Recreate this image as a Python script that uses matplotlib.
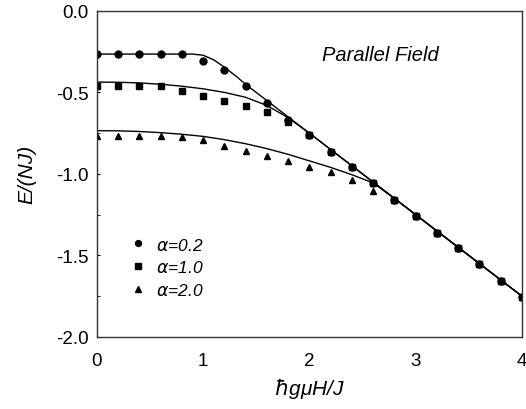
import numpy as np
import matplotlib.pyplot as plt
from matplotlib.ticker import MultipleLocator

plt.rcParams['font.family'] = ['Liberation Sans', 'DejaVu Sans']

# Puntos calculados
h = [0.0, 0.2, 0.4, 0.6, 0.8, 1.0, 1.2, 1.4, 1.6, 1.8, 2.0,
     2.2, 2.4, 2.6, 2.8, 3.0, 3.2, 3.4, 3.6, 3.8, 4.0]
e_a02 = [-0.265, -0.265, -0.265, -0.265, -0.265, -0.305, -0.36, -0.46, -0.565, -0.667, -0.76,
         -0.863, -0.96, -1.057, -1.163, -1.26, -1.36, -1.455, -1.555, -1.655, -1.757]
e_a10 = [-0.46, -0.46, -0.46, -0.46, -0.489, -0.52, -0.55, -0.585, -0.62, -0.68, -0.76,
         -0.863, -0.96, -1.057, -1.163, -1.26, -1.36, -1.455, -1.555, -1.655, -1.757]
e_a20 = [-0.77, -0.77, -0.77, -0.77, -0.775, -0.795, -0.826, -0.857, -0.89, -0.92, -0.955,
         -0.99, -1.04, -1.108, -1.163, -1.26, -1.36, -1.455, -1.555, -1.655, -1.757]

# Curvas teoricas
h_c02 = [0.0, 0.5, 0.9, 1.0, 1.1, 1.2, 1.3, 1.4, 1.6, 1.8, 2.0, 2.5, 3.0, 3.5, 4.0]
c_a02 = [-0.265, -0.265, -0.265, -0.272, -0.30, -0.345, -0.395, -0.45, -0.55, -0.65, -0.75,
         -1.0, -1.25, -1.5, -1.75]
h_c10 = [0.0, 0.2, 0.4, 0.6, 0.8, 1.0, 1.2, 1.4, 1.6, 1.8, 2.0, 2.5, 3.0, 3.5, 4.0]
c_a10 = [-0.437, -0.438, -0.442, -0.45, -0.462, -0.478, -0.50, -0.53, -0.58, -0.655, -0.75,
         -1.0, -1.25, -1.5, -1.75]
h_c20 = [0.0, 0.2, 0.4, 0.6, 0.8, 1.0, 1.2, 1.4, 1.6, 1.8, 2.0, 2.2, 2.4, 2.6, 2.8, 3.0, 3.5, 4.0]
c_a20 = [-0.735, -0.736, -0.74, -0.747, -0.757, -0.77, -0.79, -0.815, -0.845, -0.88, -0.92,
         -0.96, -1.005, -1.055, -1.15, -1.25, -1.5, -1.75]

fig = plt.figure(figsize=(5.26, 4.10), dpi=100)
ax = fig.add_axes([0.184, 0.176, 0.808, 0.795])

ax.plot(h_c20, c_a20, color='black', lw=1.0)
ax.plot(h_c10, c_a10, color='black', lw=1.0)
ax.plot(h_c02, c_a02, color='black', lw=1.0)

ax.plot(h, e_a20, '^', color='black', ms=4.5, ls='none', label=r'$\alpha$=2.0')
ax.plot(h, e_a02, 'o', color='black', ms=5, ls='none', label=r'$\alpha$=0.2')
ax.plot(h, e_a10, 's', color='black', ms=5, ls='none', label=r'$\alpha$=1.0')

handles, labels = ax.get_legend_handles_labels()
order = [1, 2, 0]
leg = ax.legend([handles[i] for i in order], [labels[i] for i in order],
                loc='lower left', bbox_to_anchor=(0.045, 0.07), frameon=False,
                handlelength=0.8, handletextpad=0.6, labelspacing=0.4,
                markerscale=0.85, prop={'style': 'italic', 'size': 12.5})

ax.text(2.67, -0.27, 'Parallel Field', style='italic', fontsize=14.5, ha='center', va='center')

ax.set_xlim(0, 4)
ax.set_ylim(-2.0, 0.0)
ax.set_xticks([0, 1, 2, 3, 4])
ax.set_yticks([0.0, -0.5, -1.0, -1.5, -2.0])
ax.set_yticklabels(['0.0', '-0.5', '-1.0', '-1.5', '-2.0'])
ax.yaxis.set_minor_locator(MultipleLocator(0.25))
ax.tick_params(axis='x', length=0, pad=11, labelsize=13.5)
ax.tick_params(axis='y', which='both', direction='in', length=2, pad=6, labelsize=13.5)

ax.set_xlabel(r'$\hbar$gμH/J', style='italic', fontsize=15, labelpad=5)
ax.set_ylabel('E/(NJ)', style='italic', fontsize=15, labelpad=14)

for s in ax.spines.values():
    s.set_linewidth(1.0)
    s.set_color('#333333')

fig.savefig('out.png', dpi=100)
